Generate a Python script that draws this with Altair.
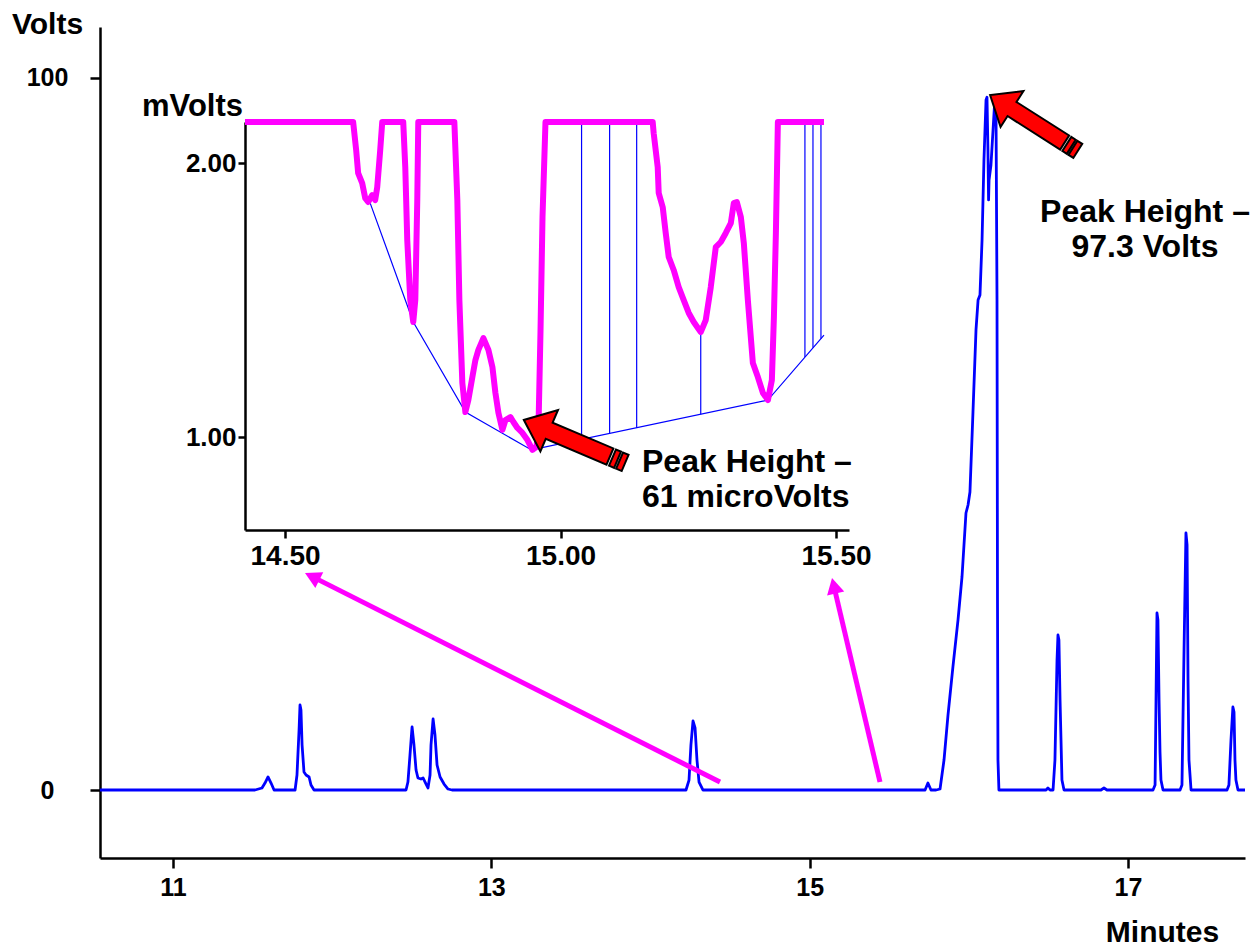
import altair as alt
import pandas as pd

FONT = "Liberation Sans"

# ---------------- main chromatogram (minutes, volts) ----------------
main_t = [10.541, 11.515, 11.559, 11.578, 11.597, 11.616, 11.635,
          11.767, 11.779, 11.792, 11.798, 11.804, 11.811, 11.823, 11.836, 11.855, 11.867, 11.886,
          12.464, 12.476, 12.489, 12.502, 12.514, 12.527, 12.539, 12.558, 12.571, 12.590, 12.602,
          12.615, 12.621, 12.634, 12.646, 12.659, 12.678, 12.703, 12.728, 12.753,
          14.223, 14.242, 14.254, 14.267, 14.280, 14.292, 14.305, 14.330,
          15.725, 15.743, 15.762,
          15.794, 15.819, 15.844, 15.869, 15.900, 15.932, 15.957, 15.982, 15.995, 16.007, 16.026,
          16.045, 16.058, 16.070, 16.083, 16.095, 16.108, 16.114, 16.120, 16.124, 16.127, 16.139,
          16.152, 16.164, 16.171, 16.177, 16.180, 16.183, 16.189,
          16.485, 16.497, 16.510, 16.529, 16.541, 16.554, 16.560, 16.566, 16.573, 16.579, 16.585, 16.598,
          16.830, 16.849, 16.868,
          17.157, 17.170, 17.176, 17.182, 17.188, 17.195, 17.201, 17.207, 17.220,
          17.327, 17.339, 17.352, 17.364, 17.371, 17.377, 17.383, 17.396,
          17.622, 17.634, 17.647, 17.659, 17.666, 17.672, 17.678, 17.691, 17.735]
main_v = [0, 0, 0.28, 0.98, 1.83, 0.98, 0,
          0, 2.11, 8.43, 11.94, 11.24, 6.32, 2.53, 2.11, 1.83, 0.70, 0,
          0, 1.12, 4.92, 8.85, 6.32, 2.81, 1.69, 1.54, 1.69, 0.84, 0.28,
          2.11, 6.32, 9.97, 7.72, 3.51, 1.83, 0.84, 0.14, 0,
          0, 1.40, 6.32, 9.69, 8.71, 4.21, 1.12, 0,
          0, 0.98, 0,
          0, 0.14, 4.21, 10.53, 17.28, 23.88, 29.92, 38.90, 40.03, 41.85, 53.09,
          64.61, 68.82, 69.52, 77.25, 88.48, 96.91, 97.3, 89.89, 82.87, 85.67, 87.78,
          92.70, 97.19, 94.10, 68.82, 26.69, 4.21, 0,
          0, 0.28, 0, 0, 4.21, 18.26, 21.77, 21.07, 12.64, 7.02, 1.40, 0,
          0, 0.28, 0,
          0, 0.70, 12.64, 24.86, 23.88, 12.64, 5.34, 1.40, 0,
          0, 0.70, 19.66, 36.10, 34.41, 15.45, 4.21, 0,
          0, 0.70, 7.02, 11.66, 10.96, 4.21, 1.40, 0, 0]

# ---------------- inset (minutes, mVolts) ----------------
ins_t = [14.4273, 14.6236, 14.6291, 14.6327, 14.6400, 14.6455, 14.6509, 14.6582, 14.6636, 14.6673,
         14.6727, 14.6764, 14.7145, 14.7182, 14.7218, 14.7273, 14.7327, 14.7364, 14.7400, 14.7418,
         14.8073, 14.8127, 14.8164, 14.8218, 14.8273, 14.8327, 14.8400, 14.8455, 14.8509, 14.8600,
         14.8691, 14.8764, 14.8818, 14.8873, 14.8945, 14.9000, 14.9091, 14.9145, 14.9218, 14.9309,
         14.9400, 14.9491, 14.9564, 14.9600, 14.9636, 14.9673, 14.9727,
         15.1673, 15.1691, 15.1764, 15.1782, 15.1855, 15.1909, 15.1964, 15.2055, 15.2145, 15.2236,
         15.2327, 15.2418, 15.2545, 15.2636, 15.2727, 15.2818, 15.2909, 15.3000, 15.3091, 15.3145,
         15.3200, 15.3273, 15.3327, 15.3400, 15.3491, 15.3582, 15.3673, 15.3764, 15.3836, 15.3873,
         15.3909, 15.3945, 15.4782]
ins_v = [2.15, 2.15, 2.047, 1.963, 1.927, 1.872, 1.858, 1.883, 1.865, 1.912,
         2.047, 2.15, 2.15, 1.985, 1.719, 1.500, 1.420, 1.500, 1.865, 2.15,
         2.15, 1.865, 1.500, 1.197, 1.091, 1.135, 1.219, 1.281, 1.318, 1.361,
         1.318, 1.255, 1.161, 1.088, 1.026, 1.062, 1.073, 1.055, 1.033, 1.015,
         0.989, 0.953, 0.964, 1.036, 1.380, 1.803, 2.15,
         2.15, 2.109, 1.985, 1.891, 1.839, 1.745, 1.657, 1.609, 1.547, 1.500,
         1.453, 1.420, 1.383, 1.427, 1.547, 1.693, 1.712, 1.745, 1.781, 1.854,
         1.858, 1.803, 1.708, 1.500, 1.270, 1.219, 1.161, 1.135, 1.208, 1.438,
         1.745, 2.15, 2.15]

base_t = [14.6545, 14.7327, 14.8273, 14.9473, 15.3764, 15.4782]
base_v = [1.854, 1.420, 1.091, 0.953, 1.135, 1.372]

drop_t = [15.0382, 15.0891, 15.1382, 15.2545, 15.4436, 15.4582, 15.4727]
drop_lo = [0.991, 1.013, 1.034, 1.083, 1.292, 1.326, 1.359]
drop_hi = [2.15, 2.15, 2.15, 1.383, 2.15, 2.15, 2.15]

# ---------------- annotations (main axis units) ----------------
block_t = [16.409, 13.5225]
block_v = [93.68, 48.95]
block_angle = [212.5, 203.0]
block_size = [10816, 12100]

pink_tail_t = [14.4366, 15.4418]
pink_tail_v = [1.12, 1.12]
pink_base_t = [11.8966, 15.1575]
pink_base_v = [29.72, 28.13]
pink_tip_t = [11.8293, 15.1403]
pink_tip_v = [30.48, 29.78]
pink_angle = [206.7, 256.8]

main_note = ["Peak Height \u2013", "97.3 Volts"]
main_note_t = [17.1067, 17.1067]
main_note_v = [81.18, 76.26]
inset_note = ["Peak Height \u2013", "61 microVolts"]
inset_note_t = [13.9466, 13.9466]
inset_note_v = [46.07, 41.15]

titles = ["Volts", "Minutes"]
titles_t = [10.2116, 17.2167]
titles_v = [107.51, -20.08]
mvolts_title = ["mVolts"]
mvolts_t = [11.4398]
mvolts_v = [95.93]

ARROW = ("M 1 0 L 0.5 -0.41 L 0.5 -0.16 L -0.70 -0.16 L -0.70 0.16 L 0.5 0.16 L 0.5 0.41 Z "
         "M -0.75 -0.16 L -0.85 -0.16 L -0.85 0.16 L -0.75 0.16 Z "
         "M -0.89 -0.16 L -1 -0.16 L -1 0.16 L -0.89 0.16 Z")
TRI = "M 0 0 L -1 -0.55 L -1 0.55 Z"

MAIN_X = [10.5414, 17.735]
MAIN_Y = [-9.55, 107.16]
IN_X = [14.4273, 15.5236]
IN_Y = [0.6606, 2.15]


def xs_main():
    return alt.Scale(domain=MAIN_X, nice=False, zero=False)


def ys_main():
    return alt.Scale(domain=MAIN_Y, nice=False, zero=False)


def xs_in():
    return alt.Scale(domain=IN_X, range=[145, 749], nice=False, zero=False)


def ys_in():
    return alt.Scale(domain=IN_Y, range=[503, 95], nice=False, zero=False)


ax = dict(grid=False, domainColor="black", tickColor="black", labelColor="black",
          labelFont=FONT, labelFontWeight="bold", title="",
          domainWidth=2.5, tickWidth=2.5)

# main trace with main axes
main_df = pd.DataFrame({"t": main_t, "v": main_v, "i": list(range(len(main_t)))})
trace = alt.Chart(main_df).mark_line(color="#0000FF", strokeWidth=2.8, strokeJoin="round").encode(
    x=alt.X("t:Q", scale=xs_main(),
            axis=alt.Axis(values=[11, 13, 15, 17], format="d", orient="bottom",
                          tickSize=10, labelPadding=7, labelFontSize=25, **ax)),
    y=alt.Y("v:Q", scale=ys_main(),
            axis=alt.Axis(values=[0, 100], format="d", orient="left", tickSize=10,
                          labelPadding=43, labelAlign="center", labelFontSize=25, **ax)),
    order="i:Q",
)


def mx(f):
    return alt.X(f, scale=xs_main(), axis=None)


def my(f):
    return alt.Y(f, scale=ys_main(), axis=None)


pink_df = pd.DataFrame({"t": pink_tail_t, "v": pink_tail_v, "t2": pink_base_t, "v2": pink_base_v,
                        "tt": pink_tip_t, "tv": pink_tip_v, "a": pink_angle})
pink_lines = alt.Chart(pink_df).mark_rule(color="#FF00FF", strokeWidth=5).encode(
    x=mx("t:Q"), y=my("v:Q"), x2="t2:Q", y2="v2:Q")
pink_heads = alt.Chart(pink_df).mark_point(shape=TRI, filled=True, color="#FF00FF", opacity=1,
                                           size=1024).encode(
    x=mx("tt:Q"), y=my("tv:Q"), angle=alt.Angle("a:Q", scale=None))

block_df = pd.DataFrame({"t": block_t, "v": block_v, "a": block_angle, "s": block_size})
blocks = alt.Chart(block_df).mark_point(shape=ARROW, filled=True, fill="#FF0000", stroke="black",
                                        strokeWidth=2, opacity=1, strokeJoin="miter").encode(
    x=mx("t:Q"), y=my("v:Q"), angle=alt.Angle("a:Q", scale=None), size=alt.Size("s:Q", scale=None))

txt = dict(font=FONT, fontWeight="bold", color="black", baseline="middle")
mn = alt.Chart(pd.DataFrame({"t": main_note_t, "v": main_note_v, "s": main_note})).mark_text(
    align="center", fontSize=32, **txt).encode(x=mx("t:Q"), y=my("v:Q"), text="s:N")
inn = alt.Chart(pd.DataFrame({"t": inset_note_t, "v": inset_note_v, "s": inset_note})).mark_text(
    align="left", fontSize=32, **txt).encode(x=mx("t:Q"), y=my("v:Q"), text="s:N")
tl = alt.Chart(pd.DataFrame({"t": titles_t, "v": titles_v, "s": titles})).mark_text(
    align="center", fontSize=30, **txt).encode(x=mx("t:Q"), y=my("v:Q"), text="s:N")
mvt = alt.Chart(pd.DataFrame({"t": mvolts_t, "v": mvolts_v, "s": mvolts_title})).mark_text(
    align="right", fontSize=31, **txt).encode(x=mx("t:Q"), y=my("v:Q"), text="s:N")

# inset
ins_df = pd.DataFrame({"ti": ins_t, "vi": ins_v, "i": list(range(len(ins_t)))})
pink = alt.Chart(ins_df).mark_line(color="#FF00FF", strokeWidth=6, strokeJoin="round").encode(
    x=alt.X("ti:Q", scale=xs_in(),
            axis=alt.Axis(values=[14.5, 15.0, 15.5], format=".2f", orient="bottom", offset=-328,
                          tickSize=8, labelPadding=4, labelFontSize=28, **ax)),
    y=alt.Y("vi:Q", scale=ys_in(),
            axis=alt.Axis(values=[1.0, 2.0], format=".2f", orient="left", offset=-145,
                          tickSize=7, labelPadding=2, labelFontSize=26, **ax)),
    order="i:Q",
)
base_df = pd.DataFrame({"ti": base_t, "vi": base_v})
base = alt.Chart(base_df).mark_line(color="#0000FF", strokeWidth=1.2).encode(
    x=alt.X("ti:Q", scale=xs_in(), axis=None), y=alt.Y("vi:Q", scale=ys_in(), axis=None))
drop_df = pd.DataFrame({"ti": drop_t, "lo": drop_lo, "hi": drop_hi})
drops = alt.Chart(drop_df).mark_rule(color="#0000FF", strokeWidth=1.2).encode(
    x=alt.X("ti:Q", scale=xs_in(), axis=None), y=alt.Y("lo:Q", scale=ys_in(), axis=None), y2="hi:Q")

chart = alt.layer(
    base, drops, pink, trace, pink_lines, pink_heads, blocks, mn, inn, tl, mvt
).resolve_scale(
    x="independent", y="independent"
).properties(
    width=1145, height=831,
    autosize=alt.AutoSizeParams(type="none"),
    padding={"left": 92, "top": 19, "right": 5, "bottom": 92},
).configure_view(stroke=None)

chart.save("out.html", embed_options={"renderer": "svg", "actions": False})
